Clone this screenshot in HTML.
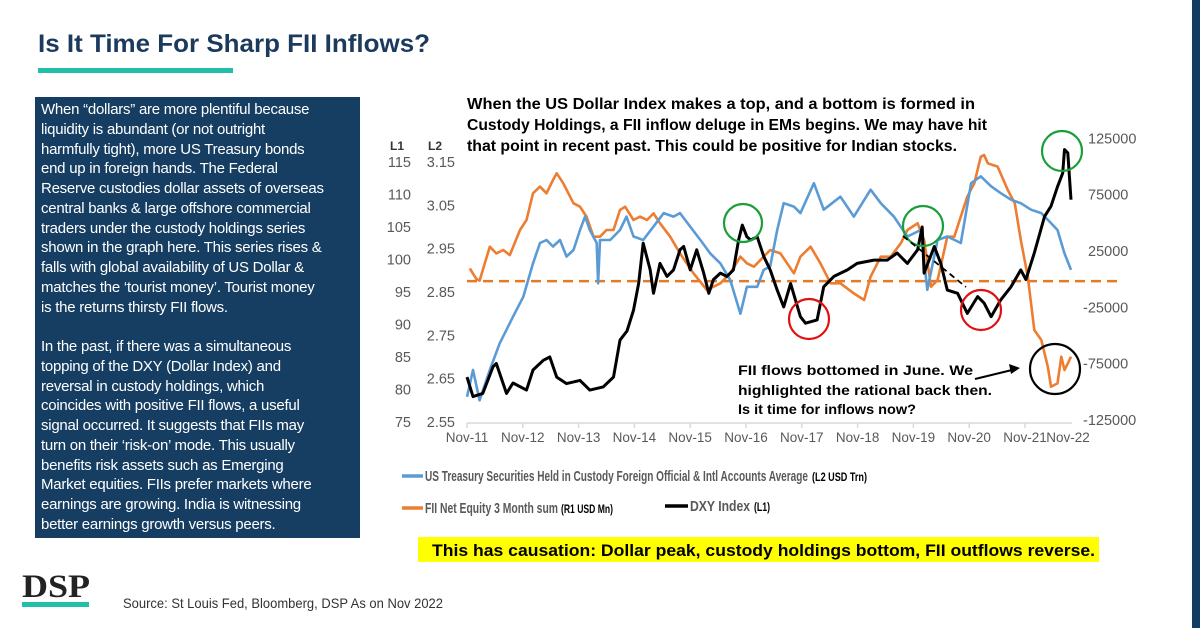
<!DOCTYPE html>
<html><head><meta charset="utf-8">
<style>
html,body{margin:0;padding:0;background:#fff;}
body{width:1200px;height:628px;position:relative;overflow:hidden;font-family:"Liberation Sans",sans-serif;}
#panel{position:absolute;left:35px;top:97px;width:325px;height:441px;background:#163e62;color:#fff;font-size:15px;line-height:19.75px;letter-spacing:-0.25px;white-space:nowrap;}
#panel .p{position:absolute;left:6px;}
svg{position:absolute;left:0;top:0;}
</style></head>
<body>
<div id="panel">
<div class="p" style="top:3px">When “dollars” are more plentiful because<br>liquidity is abundant (or not outright<br>harmfully tight), more US Treasury bonds<br>end up in foreign hands. The Federal<br>Reserve custodies dollar assets of overseas<br>central banks &amp; large offshore commercial<br>traders under the custody holdings series<br>shown in the graph here. This series rises &amp;<br>falls with global availability of US Dollar &amp;<br>matches the ‘tourist money’. Tourist money<br>is the returns thirsty FII flows.</div>
<div class="p" style="top:240px">In the past, if there was a simultaneous<br>topping of the DXY (Dollar Index) and<br>reversal in custody holdings, which<br>coincides with positive FII flows, a useful<br>signal occurred. It suggests that FIIs may<br>turn on their ‘risk-on’ mode. This usually<br>benefits risk assets such as Emerging<br>Market equities. FIIs prefer markets where<br>earnings are growing. India is witnessing<br>better earnings growth versus peers.</div>
</div>
<svg id="chart" width="1200" height="628" xmlns="http://www.w3.org/2000/svg">
<rect x="1192" y="0" width="8" height="628" fill="#123d63"/>
<text x="38" y="52" font-size="25" font-weight="bold" fill="#1b3a5c" textLength="392" lengthAdjust="spacingAndGlyphs">Is It Time For Sharp FII Inflows?</text>
<rect x="38" y="68" width="195" height="5" fill="#1fbfa8"/>
<g font-weight="bold" font-size="16" fill="#000">
<text x="467" y="109" textLength="508" lengthAdjust="spacingAndGlyphs">When the US Dollar Index makes a top, and a bottom is formed in</text>
<text x="467" y="130" textLength="520" lengthAdjust="spacingAndGlyphs">Custody Holdings, a FII inflow deluge in EMs begins. We may have hit</text>
<text x="467" y="151" textLength="490" lengthAdjust="spacingAndGlyphs">that point in recent past. This could be positive for Indian stocks.</text>
</g>
<g font-weight="bold" font-size="14" fill="#000">
<text x="738" y="375" textLength="235" lengthAdjust="spacingAndGlyphs">FII flows bottomed in June. We</text>
<text x="738" y="395" textLength="254" lengthAdjust="spacingAndGlyphs">highlighted the rational back then.</text>
<text x="738" y="414" textLength="178" lengthAdjust="spacingAndGlyphs">Is it time for inflows now?</text>
</g>
<g id="axes"></g>
<g id="series"></g>
<g id="marks" fill="none" stroke-width="2.2">
<circle cx="743" cy="223" r="19" stroke="#1a9e3a"/>
<circle cx="809" cy="319" r="20" stroke="#e01010"/>
<circle cx="923" cy="226" r="20" stroke="#1a9e3a"/>
<circle cx="981" cy="310" r="20" stroke="#e01010"/>
<circle cx="1055" cy="369" r="25" stroke="#000"/>
<circle cx="1062" cy="151" r="20" stroke="#1a9e3a"/>
<line x1="903" y1="236" x2="966" y2="287" stroke="#000" stroke-width="1.8" stroke-dasharray="6,4"/>
<line x1="975" y1="379" x2="1012" y2="370" stroke="#000" stroke-width="2"/>
<polygon points="1020,368 1009,364 1011,374" fill="#000" stroke="none"/>
</g>
<g font-size="15" fill="#595959" font-weight="bold">
<line x1="402" y1="476" x2="423" y2="476" stroke="#5b9bd5" stroke-width="3.5"/>
<text x="425" y="481" textLength="383" lengthAdjust="spacingAndGlyphs">US Treasury Securities Held in Custody Foreign Official &amp; Intl Accounts Average</text>
<text x="812" y="481" font-size="12" fill="#000" textLength="55" lengthAdjust="spacingAndGlyphs">(L2 USD Trn)</text>
<line x1="402" y1="508" x2="423" y2="508" stroke="#ed7d31" stroke-width="3.5"/>
<text x="425" y="513" textLength="133" lengthAdjust="spacingAndGlyphs">FII Net Equity 3 Month sum</text>
<text x="561" y="513" font-size="12" fill="#000" textLength="52" lengthAdjust="spacingAndGlyphs">(R1 USD Mn)</text>
<line x1="665" y1="506" x2="688" y2="506" stroke="#000" stroke-width="3.5"/>
<text x="690" y="511" textLength="60" lengthAdjust="spacingAndGlyphs">DXY Index</text>
<text x="754" y="511" font-size="12" fill="#000" textLength="16" lengthAdjust="spacingAndGlyphs">(L1)</text>
</g>
<rect x="418" y="537" width="681" height="25" fill="#ffff00"/>
<text x="432" y="556" font-size="17" font-weight="bold" fill="#000" textLength="663" lengthAdjust="spacingAndGlyphs">This has causation:  Dollar peak, custody holdings bottom, FII outflows reverse.</text>
<text x="22" y="597" font-family="Liberation Serif,serif" font-size="33" font-weight="bold" fill="#222" textLength="68" lengthAdjust="spacingAndGlyphs">DSP</text>
<rect x="22" y="602" width="67" height="5" fill="#1fbfa8"/>
<text x="123" y="608" font-size="14" fill="#333" textLength="320" lengthAdjust="spacingAndGlyphs">Source: St Louis Fed, Bloomberg, DSP As on Nov 2022</text>
</svg>
<script>
// months since Nov-11
const dxyMonths=[0,1.3,3.4,5.6,6.3,8.5,9.9,12.8,14.2,16.4,17.8,19.3,21.4,24.3,26.4,29.3,31.5,32.9,34.4,35.8,36.9,37.9,39.4,40.1,41.5,43,44.4,45.8,46.6,48,49.4,50.9,52,53,54.5,55.9,57.3,58.4,59.2,60.2,61,62.4,63.8,65.2,66.7,68.1,69.6,71.7,72.8,75.3,76.7,78.9,81.8,83.9,87.5,90.4,92.5,94.7,96.9,97.9,98.3,100.5,101.9,103.3,105.5,107.6,109.8,111.2,112.7,114.8,117,119.1,120.2,122,124.2,125.6,127,128.1,128.5,129.2,129.9];
const dxyValues=[81.9,78.9,79.4,83.5,84,79.4,81,79.9,83,84.5,85,81.9,80.9,81.4,79.9,80.4,81.9,87.6,89,92.2,96.3,102.5,98.4,94.8,99.4,97.4,98.4,101.5,102,98.4,101.5,97.9,94.8,96.9,97.9,97.4,98.4,103,105.3,103.5,103,103.5,100.5,98.4,95.3,92.7,96.3,91.2,90.2,90.7,95.8,97.4,98.4,99.4,99.9,99.9,101,99.4,101.5,105,97.9,102,99.4,95.3,94.8,91.7,94.3,93.3,91.2,93.8,95.8,98.4,96.9,101,106.6,108.2,111.2,113.3,116.9,116.4,109.2];
const custodyMonths=[0,1.3,2.7,4.9,7,9.9,12.1,14.2,15.7,17.1,18.5,20,21.4,22.9,24.3,25.4,26.4,27.9,28.2,28.6,30.8,32.9,34.3,35.8,37.9,40.1,42.3,44.4,45.8,48,50.2,52.3,54.5,56.6,58.8,60.2,62.4,63.8,65.2,66.7,68.1,70.3,71.7,74.6,76.7,80.3,83.2,86.8,89,91.8,94.7,97.6,99,101.2,103.3,106.2,108.4,110.5,112.7,114.8,117,119.1,121.3,123.5,125.6,127,128.5,129.9];
const custodyValues=[2.608,2.67,2.60,2.67,2.731,2.793,2.839,2.916,2.963,2.97,2.955,2.97,2.932,2.947,2.993,3.024,2.993,2.963,2.87,2.97,2.97,2.993,3.024,2.978,2.97,3.001,3.032,3.024,3.032,3.001,2.97,2.939,2.916,2.878,2.8,2.862,2.862,2.901,2.909,2.993,3.055,3.047,3.032,3.101,3.04,3.07,3.024,3.086,3.055,3.024,2.978,2.993,2.855,2.97,2.978,2.963,3.101,3.117,3.094,3.078,3.063,3.055,3.04,3.032,3.009,2.993,2.939,2.901];
const fiiMonths=[0.6,2,2.7,4.9,6.3,7.8,9.2,11.4,12.8,14.2,15.7,17.1,18.5,19.3,20.7,22.9,24.3,25.7,27.2,28.6,30,31.5,32.9,34,35.8,37.2,38.7,40.1,41.5,43.7,45.8,48.7,51.6,54.5,56.6,58.8,60.2,61.7,63.8,65.2,67.4,70.3,71.7,73.9,76,78.2,80.3,83.2,85.4,86.8,89,91.1,93.3,94.7,96.9,98.3,99.8,101.2,103.3,104.8,106.2,107.6,109.1,110.5,111.2,112,114.1,116.3,117.8,119.1,120.6,122,123.5,124.9,125.6,127,127.8,128.5,129.2,129.9];
// thousands USD Mn
const fiiValues=[9.6,0.2,-1.3,28.8,22.9,25.9,21.4,43.6,52.5,76.2,82.1,76.2,88,93.9,85.1,67.3,64.3,55.5,37.7,37.7,43.6,43.6,61.4,64.3,52.5,55.5,52.5,58.4,49.6,37.7,22.9,5.2,-9.6,-3.7,5.2,20,14.1,11.1,20,25.9,22.9,5.2,19.9,28.8,14.1,-3.7,-3.7,-12.6,-18.5,2.2,19.9,19.9,31.8,43.6,49.6,34.8,-6.7,-0.7,37.7,37.7,55.5,73.2,85.1,108.7,110.2,102.8,99.9,79.1,67.3,34.8,2.2,-45.1,-54,-77.7,-95.4,-92.5,-68.8,-80.6,-74.7,-68.8];
const xLabels=["Nov-11","Nov-12","Nov-13","Nov-14","Nov-15","Nov-16","Nov-17","Nov-18","Nov-19","Nov-20","Nov-21","Nov-22"];
const l1Ticks=[115,110,105,100,95,90,85,80,75];
const l2Ticks=[3.15,3.05,2.95,2.85,2.75,2.65,2.55];
const r1Ticks=[125000,75000,25000,-25000,-75000,-125000];

const NS="http://www.w3.org/2000/svg";
const xS=m=>467+m*55.8/12;
const yL1=v=>162+(115-v)*6.5;
const yL2=v=>162+(3.15-v)*433.3;
const yR=k=>138.3+(125-k)*1.127;
function mk(tag,attrs,parent){const e=document.createElementNS(NS,tag);for(const k in attrs)e.setAttribute(k,attrs[k]);parent.appendChild(e);return e;}
const ax=document.getElementById('axes'), se=document.getElementById('series');
const axisLine=mk('line',{x1:467,y1:423,x2:1072,y2:423,stroke:'#d9d9d9','stroke-width':1.5},ax);


xLabels.forEach((l,i)=>{
  const x=xS(i*12);
  if(x<1073){const t=mk('line',{x1:x,y1:423,x2:x,y2:428,stroke:'#d9d9d9','stroke-width':1.5},ax);
  
  }
  const tx=mk('text',{x:Math.min(x,1068),y:442,'text-anchor':'middle','font-size':13.5,fill:'#595959'},ax);
  tx.textContent=l;
  
  
});
l1Ticks.forEach(v=>{const t=mk('text',{x:411,y:yL1(v)+5,'text-anchor':'end','font-size':14.5,fill:'#595959'},ax);t.textContent=v;
  
  });
l2Ticks.forEach(v=>{const t=mk('text',{x:455,y:yL2(v)+5,'text-anchor':'end','font-size':14.5,fill:'#595959'},ax);t.textContent=v.toFixed(2);
  
  });
r1Ticks.forEach(v=>{const t=mk('text',{x:v<0?1083:1088,y:yR(v/1000)+5,'font-size':14.5,fill:'#595959'},ax);t.textContent=v;
  
  });
const h1=mk('text',{x:390,y:150,'font-size':12,'font-weight':'bold',fill:'#333'},ax);h1.textContent='L1';


const h2=mk('text',{x:428,y:150,'font-size':12,'font-weight':'bold',fill:'#333'},ax);h2.textContent='L2';


const zl=mk('line',{x1:467,y1:yR(0)+2,x2:1118,y2:yR(0)+2,stroke:'#e07b2a','stroke-width':2.5,'stroke-dasharray':'10,6'},se);


function path(ms,vs,fy){return ms.map((m,i)=>(i?'L':'M')+xS(m).toFixed(1)+','+fy(vs[i]).toFixed(1)).join('');}
const pf=mk('path',{d:path(fiiMonths,fiiValues,yR),fill:'none',stroke:'#ed7d31','stroke-width':2.6,'stroke-linejoin':'round'},se);


const pc=mk('path',{d:path(custodyMonths,custodyValues,yL2),fill:'none',stroke:'#5b9bd5','stroke-width':2.6,'stroke-linejoin':'round'},se);


const pd=mk('path',{d:path(dxyMonths,dxyValues,yL1),fill:'none',stroke:'#000','stroke-width':3,'stroke-linejoin':'round'},se);


</script>
</body></html>
